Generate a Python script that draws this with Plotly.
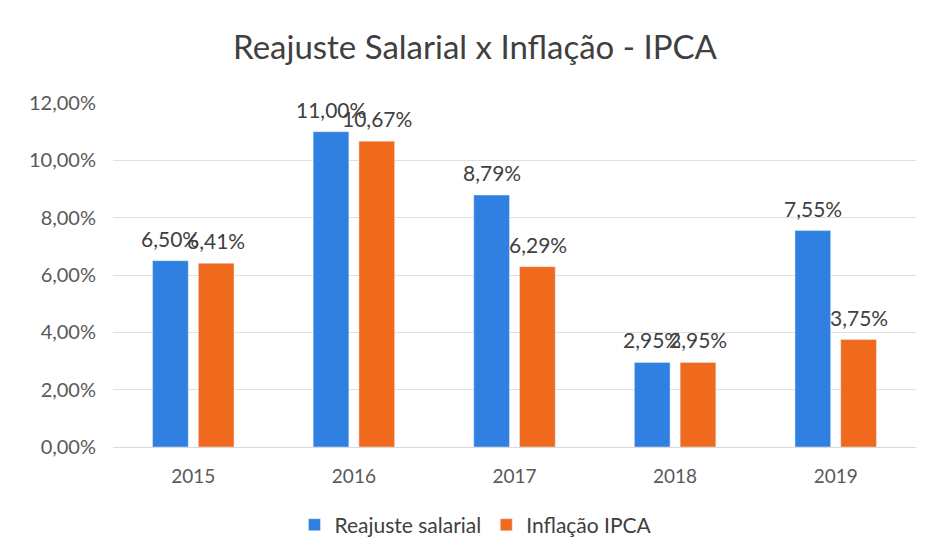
import plotly.graph_objects as go

years = ["2015", "2016", "2017", "2018", "2019"]
reajuste = [0.0650, 0.1100, 0.0879, 0.0295, 0.0755]
inflacao = [0.0641, 0.1067, 0.0629, 0.0295, 0.0375]
y_ticks = [0, 0.02, 0.04, 0.06, 0.08, 0.10, 0.12]

font_fam = "Lato, 'Open Sans', sans-serif"
label_font = dict(size=21, color="#404040", family=font_fam)


def pct(v):
    return f"{v * 100:.2f}%".replace(".", ",")


fig = go.Figure()
fig.add_trace(go.Bar(x=years, y=reajuste, name="Reajuste salarial", marker_color="#2F80E0"))
fig.add_trace(go.Bar(x=years, y=inflacao, name="Inflação IPCA", marker_color="#F06A1E"))

annotations = []
for series, xs in ((reajuste, -23), (inflacao, 23)):
    for i, v in enumerate(series):
        annotations.append(dict(
            x=i, y=v, xref="x", yref="y", text=pct(v), showarrow=False,
            xanchor="center", yanchor="bottom", xshift=xs, yshift=8,
            font=label_font,
        ))

fig.update_layout(
    width=934, height=560,
    separators=",.",
    paper_bgcolor="white", plot_bgcolor="white",
    title=dict(text="Reajuste Salarial x Inflação - IPCA", x=0.5, xanchor="center",
               y=0.930, yanchor="middle",
               font=dict(size=33, color="#404040", family=font_fam)),
    barmode="group", bargap=0.43, bargroupgap=0.22,
    margin=dict(l=105, r=26, t=95, b=121, autoexpand=False),
    font=dict(family=font_fam, color="#595959", size=19),
    xaxis=dict(type="category", range=[-0.5, len(years) - 0.5], showline=True,
               linecolor="#d9d9d9", ticks="", automargin=False,
               ticklabelstandoff=12, tickfont=dict(size=19, color="#595959")),
    yaxis=dict(range=[0, 0.12], tickvals=y_ticks, tickformat=".2%", automargin=False,
               showgrid=True, gridcolor="#e0e0e0", zeroline=False,
               tickfont=dict(size=20, color="#595959"), ticklabelstandoff=16),
    legend=dict(orientation="h", x=0.452, xanchor="center", y=-0.227, yanchor="middle",
                font=dict(size=21, color="#404040")),
    annotations=annotations,
    showlegend=True,
)

fig.write_html("out.html")
